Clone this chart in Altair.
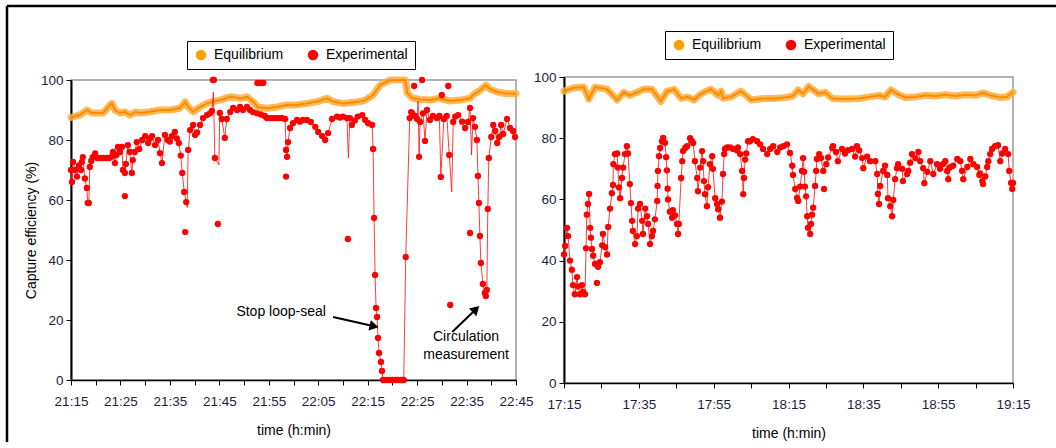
import math
import altair as alt
import pandas as pd

# ---------------- data ----------------
LEFT_START = 21 * 60 + 15   # minutes of day, 21:15
RIGHT_START = 17 * 60 + 15  # 17:15

series_names = ["Equilibrium", "Experimental"]
series_colors = ["#FFA000", "#FF0000"]

# left panel (minutes after 21:15)
left_eq_t = [0, 1.0, 1.8, 3.2, 4.2, 6.5, 7.9, 8.3, 8.9, 9.9, 10.9, 11.9, 13.0, 14.0, 16.0, 18.0, 20.0,
             22.0, 23.1, 23.7, 24.7, 26.1, 27.5, 28.7, 30.1, 32.2, 34.2, 35.6, 36.8, 37.8, 39.6, 41.7,
             43.7, 45.7, 47.7, 49.8, 51.8, 53.0, 55.0, 58.5, 59.5, 61.1, 62.5, 64.5, 66.5, 67.6, 68.0,
             69.0, 70.6, 72.6, 74.6, 76.7, 78.7, 80.7, 81.3, 82.7, 83.9, 84.7, 86.2, 87.8, 90.0]
left_eq_v = [87.5, 88, 88.3, 90, 89, 89, 91.7, 92.2, 90, 89, 89.4, 88.3, 89.3, 89, 89.4, 90, 90,
             90.6, 92.7, 91, 89.4, 91, 92.2, 92.8, 93.3, 94.4, 93.9, 94.4, 92.8, 91, 90.6, 91,
             91.7, 91.7, 92.2, 92.8, 93.9, 92.8, 92.2, 92.8, 93.3, 95, 98.3, 100, 100, 100, 95.7,
             94, 93.5, 93.3, 93.9, 93, 93.3, 93.9, 95, 96.5, 98.3, 97, 96, 95.5, 95.5]

left_exp_t = [0.0, 0.2, 0.4, 0.8, 1.2, 1.6, 2.0, 2.2, 2.4, 2.8, 3.2, 3.4, 3.6, 3.8, 4.1, 4.4, 4.9, 5.3,
              5.9, 6.5, 7.1, 7.7, 8.3, 8.5, 8.9, 9.2, 9.5, 9.9, 10.3, 10.5, 10.9, 11.1, 11.5, 11.9,
              12.3, 12.5, 12.9, 13.3, 13.8, 14.4, 15.0, 15.6, 16.0, 16.4, 17.0, 17.6, 18.0, 18.4,
              19.0, 19.6, 20.0, 20.4, 21.0, 21.4, 21.8, 22.2, 22.5, 22.9, 23.3, 23.7, 24.1, 24.7,
              25.1, 25.5, 26.1, 26.7, 27.5, 28.1, 28.5, 29.1, 30.1, 30.5, 31.1, 31.5, 32.2, 32.8,
              33.6, 34.2, 34.8, 35.6, 36.2, 36.8, 37.6, 38.4, 39.2, 39.6, 40.2, 40.7, 41.2, 41.7,
              42.2, 42.7, 43.3, 43.5, 43.7, 43.9, 44.3, 44.9, 45.7, 46.3, 46.9, 47.7, 48.5, 49.4,
              50.0, 50.8, 51.4, 52.0, 52.8, 53.8, 54.4, 55.0, 55.8, 56.4, 56.8, 57.4, 58.0, 58.9,
              59.5, 60.1, 60.9, 61.1, 61.3, 61.5, 61.7, 61.9, 62.1, 62.3, 62.7, 62.9, 63.1, 63.6,
              64.1, 64.6, 65.1, 65.6, 66.1, 66.6, 67.0, 67.3, 67.7, 68.5, 68.8, 69.0, 69.6, 70.0,
              70.4, 70.6, 71.2, 71.6, 72.0, 72.6, 73.2, 74.0, 74.5, 74.8, 75.4, 76.0, 76.5, 77.3,
              77.7, 78.3, 79.1, 79.7, 80.3, 80.7, 81.3, 81.7, 82.1, 82.3, 82.5, 82.7, 82.9, 83.3,
              83.7, 83.9, 84.1, 84.3, 84.5, 85.0, 85.4, 85.8, 86.2, 86.6, 87.0, 87.4, 88.2, 88.8,
              89.4, 89.8]
left_exp_v = [70, 66, 72.7, 70, 67.8, 71.5, 70, 72.7, 74.3, 67.2, 64, 59, 59, 71, 73, 74.3, 75.5, 74,
              74, 74, 74, 74, 74.5, 76, 72.3, 75, 77.7, 76, 77.7, 70, 69, 72, 78.3, 76,
              69, 73.3, 76, 79.3, 77, 80, 81.3, 79, 80.5, 81.3, 78.3, 80, 75.6, 72.3,
              81.7, 80, 79.5, 81.3, 82.7, 80.5, 79, 74.8, 69, 62.7, 59.3, 76.7, 83.3, 85,
              81.7, 82.5, 85, 87.3, 88.3, 88.9, 89.7, 74, 89, 87, 80.7, 87, 89.3, 90.7,
              90, 91, 90, 91, 90, 89.3, 88.9, 88.5, 88, 87.3, 87.3, 87.3, 87.3, 87.3,
              87.3, 87.3, 87, 76.7, 74.4, 79.3, 84, 85.6, 86.7, 86.1, 86.7, 86.7, 86, 84.4,
              82.7, 81.3, 80, 82.3, 87, 87.8, 87.5, 87.8, 87.3, 87.3, 85, 86.5, 87.8, 88.3,
              86.7, 85.6, 85, 77, 54, 35, 24, 21, 14, 9, 6, 3, 0, 0,
              0, 0, 0, 0, 0, 0, 0, 0, 41, 87.3, 89.3, 88.9, 88, 87,
              74.4, 86, 88.9, 79.7, 90, 86.7, 88, 87.3, 88, 67.7, 87, 88, 75, 86,
              87.8, 88.3, 86.1, 84, 86, 90.7, 87.3, 84.4, 80, 68, 59, 48, 39, 32,
              29, 28, 30, 57, 74, 81, 85, 83, 79, 81, 85, 82, 87, 84,
              83, 81]

# dots with no line through them
left_out_t = [10.9, 23.1, 28.7, 28.9, 29.7, 37.7, 38.3, 38.9, 43.5, 56.0, 69.4, 71.0, 75.0, 76.3, 76.7, 80.7]
left_out_v = [61.3, 49.3, 100, 100, 52, 99, 99, 99, 67.8, 47, 98, 100, 95, 98, 25, 49]

# line vertices with no dot
left_spike_t = [23.5, 28.8, 29.9, 56.1, 70.2, 77.0, 81.0]
left_spike_v = [57.5, 96, 71.7, 74, 93, 62.7, 75]

# right panel (minutes after 17:15)
right_eq_t = [0, 2.6, 5.3, 6.6, 8.3, 11.5, 14.2, 16.0, 17.6, 19.5, 21.4, 23.5, 25.9, 27.5, 29.4, 31.3,
              32.9, 34.8, 36.1, 37.4, 39.3, 41.2, 42.0, 42.5, 44.7, 47.3, 50.0, 53.2, 56.4, 59.1,
              61.2, 62.6, 63.9, 65.4, 68.1, 69.8, 71.7, 75.1, 78.9, 81.6, 84.2, 85.8, 87.4, 89.3,
              91.2, 93.9, 96.5, 99.2, 101.9, 104.5, 107.2, 109.9, 112.0, 113.9, 116.6, 118.4, 120]
right_eq_v = [95.4, 96.5, 96.7, 92.8, 96.7, 96, 92.5, 95, 94, 95, 96, 96, 92, 95.3, 96, 93,
              93.5, 92.5, 94, 95, 96, 94, 95.4, 93, 93.5, 95.4, 92.5, 93, 93, 93.3,
              93.8, 95.8, 94.5, 96.9, 94.5, 95, 93, 92.8, 93, 93.5, 94, 93.5, 95.8, 94.3,
              93.3, 93.5, 94, 93.8, 94.2, 93.8, 94.2, 94, 94.8, 94, 93.3, 93.5, 95]

right_exp_t = [0.0, 0.3, 0.8, 1.1, 1.6, 2.1, 2.4, 2.9, 3.5, 3.7, 4.3, 4.8, 5.1, 5.6, 5.9, 6.1, 6.4,
               6.7, 7.0, 7.2, 7.5, 7.8, 8.3, 9.1, 9.6, 10.2, 10.4, 11.0, 11.5, 11.8, 12.3, 12.8,
               13.1, 13.2, 13.6, 14.2, 14.4, 14.7, 15.0, 15.5, 15.8, 16.3, 16.8, 17.1, 17.6, 17.9,
               18.2, 18.4, 19.0, 19.5, 19.8, 20.3, 20.9, 21.1, 21.7, 22.2, 22.5, 23.0, 23.5, 23.8,
               24.3, 24.9, 25.0, 25.1, 25.4, 25.7, 26.2, 26.5, 27.0, 27.3, 27.5, 27.7, 27.8, 28.3,
               28.9, 29.1, 29.7, 30.2, 30.5, 30.7, 31.3, 31.6, 31.8, 32.4, 32.9, 33.7, 34.2, 34.5,
               35.0, 35.6, 35.8, 36.4, 36.9, 37.2, 37.4, 37.7, 38.2, 38.5, 39.0, 39.6, 39.8, 40.4,
               40.9, 41.2, 41.7, 42.2, 42.5, 42.8, 43.0, 43.6, 44.4, 45.2, 46.3, 46.5, 47.1, 47.6,
               47.9, 48.1, 48.4, 48.7, 49.2, 49.7, 50.5, 51.6, 52.4, 53.2, 54.3, 55.1, 55.9, 57.0,
               57.8, 58.6, 59.6, 60.4, 61.0, 61.2, 61.8, 62.3, 62.6, 63.1, 63.6, 63.9, 64.2, 64.4,
               64.7, 65.0, 65.2, 65.8, 66.0, 66.3, 66.6, 67.1, 67.4, 67.6, 68.2, 68.7, 69.3, 70.1,
               70.6, 71.7, 71.9, 72.7, 73.2, 74.3, 75.1, 75.9, 77.0, 77.8, 78.3, 78.9, 79.7, 80.0,
               81.0, 81.8, 83.2, 83.7, 83.9, 84.2, 84.5, 85.3, 85.8, 86.4, 86.6, 87.2, 87.7, 88.0,
               88.5, 89.0, 89.3, 90.4, 90.6, 91.7, 92.0, 92.5, 93.0, 93.9, 94.7, 95.2, 96.0, 96.3,
               97.1, 97.9, 98.7, 99.7, 100.5, 101.3, 101.9, 102.4, 102.7, 103.2, 104.0, 105.1,
               105.9, 106.4, 106.7, 107.8, 108.6, 109.4, 110.4, 111.0, 111.2, 111.8, 112.0, 112.6,
               113.1, 113.4, 113.9, 114.4, 115.2, 116.0, 116.6, 117.1, 117.9, 118.7, 119.0, 119.5,
               119.8, 120.0]
right_exp_v = [42, 44.8, 50.7, 48, 40, 37, 32, 29, 34.6, 31.5, 29, 32, 29.8, 29, 44, 55, 58.5,
               61.8, 50.7, 47.5, 43.8, 41.6, 38.9, 38, 39.5, 45, 48.7, 44.4, 42, 51, 57, 62,
               64.7, 71.5, 74.8, 75, 70.4, 63.9, 60.4, 67, 70.4, 74.8, 77.4, 75, 65, 58.8,
               53, 49.7, 45.4, 48, 57, 58.5, 53, 48.7, 57, 54.5, 52, 45.4, 48, 49.7,
               53.5, 59.5, 64.4, 69.3, 74.1, 76.8, 79, 80.1, 78.5, 73.8, 69.5, 63.5, 60, 56,
               54, 56.5, 54.8, 52, 48.7, 52, 67, 72.5, 75.8, 76.8, 77.4, 80, 79, 78.4,
               72.5, 67, 62.7, 70.4, 75.8, 72.5, 66, 61.7, 57.8, 64, 71.5, 74.1, 70, 60.4,
               58.5, 56.8, 54, 59.3, 68.3, 74.8, 76.5, 77, 77, 76.5, 76, 77, 74.8, 69.3,
               61.7, 67, 73, 75, 79, 79, 79.7, 79, 78, 76.5, 74.8, 76.5, 77.4, 75.5,
               77, 77.4, 78, 75.2, 71, 68, 63.4, 60.5, 59.5, 64.2, 69.3, 73.5, 69, 64.2,
               61, 54.5, 50.7, 48.7, 52, 55, 57.3, 64.4, 69.3, 73.2, 74.8, 73.5, 69.3, 71.5,
               73.7, 76.8, 77.4, 75.5, 72.5, 76.5, 75, 76.1, 76.5, 74, 77.4, 76, 73.5, 70.2,
               74, 72.5, 72.5, 68.3, 61.8, 58.5, 64.4, 69.3, 71, 68, 60.4, 57.8, 54.5, 59.8,
               66.6, 70.2, 71.5, 70, 66, 68.3, 69.3, 72, 74.8, 73.5, 75.5, 72.5, 70.2, 65.3,
               69, 72.5, 68.3, 71.5, 70, 71.5, 72.5, 69.3, 66.6, 70.5, 71, 73.2,
               72.5, 69.3, 66.6, 70.6, 73.2, 71.5, 70.6, 68, 68.5, 66, 65, 67.5,
               70.6, 72.5, 74.8, 76.5, 77.4, 77.7, 72.5, 75, 76.5, 74.8, 69.3, 65.4,
               63.4, 65.4]
right_out_t = [8.8, 69.5]
right_out_v = [32.7, 63.4]

# annotations (left panel, data units: minutes after 21:15, %)
ann_text = ["Stop loop-seal", "Circulation", "measurement"]
ann_t = [42.5, 79.9, 79.9]
ann_v = [22.7, 14.2, 8.2]
arrow_t0 = [53.0, 77.1]
arrow_v0 = [21.0, 16.0]
arrow_t1 = [61.3, 81.9]
arrow_v1 = [17.9, 23.6]

# ---------------- layout / style ----------------
LW, LH = 445, 300
RW, RH = 449, 306
FONT = "Liberation Sans"
LABEL_COLOR = "#1e1e3c"


def frame(ts, vs, base, name):
    return pd.DataFrame({"time": [base + t for t in ts], "value": vs, "series": name})


def hm_expr(start, step):
    return (f"(datum.value - {start}) % {step} == 0 ? "
            "(floor(datum.value / 60) + ':' + (datum.value % 60 < 10 ? '0' : '') + (datum.value % 60)) : ''")


def panel(start, span, tick_step, label_step, w, h, eq, exp_line, exp_pts, ytitle, lx, ly, extra=None):
    x = alt.X("time:Q",
              scale=alt.Scale(domain=[start, start + span], nice=False, zero=False),
              axis=alt.Axis(values=list(range(start, start + span + 1, tick_step)),
                            labelExpr=hm_expr(start, label_step), title="time (h:min)",
                            labelOverlap=False, labelFlush=False, tickSize=5, labelPadding=9,
                            titlePadding=16, domainWidth=1.5))
    yaxis = dict(values=[0, 20, 40, 60, 80, 100], tickSize=5, labelPadding=3, domainWidth=2)
    if ytitle:
        yaxis.update(title=ytitle, titleX=-40, titleY=h / 2, titleAngle=270,
                     titleAlign="center", titleBaseline="middle")
    else:
        yaxis.update(title=None)
    y = alt.Y("value:Q", scale=alt.Scale(domain=[0, 100], nice=False), axis=alt.Axis(**yaxis))

    band = alt.Chart(eq).mark_line(color="#FFAD3A", strokeWidth=7, opacity=0.85,
                                   strokeJoin="round", strokeCap="round").encode(x=x, y=y)
    core = alt.Chart(eq).mark_line(color="#FF8A00", strokeWidth=2).encode(x=x, y=y)
    red_line = alt.Chart(exp_line).mark_line(color="#FF1A1A", strokeWidth=1, opacity=0.85).encode(x=x, y=y)
    dots = alt.Chart(exp_pts).mark_circle(size=40, opacity=1).encode(
        x=x, y=y,
        fill=alt.Fill("series:N",
                      scale=alt.Scale(domain=series_names, range=series_colors),
                      legend=alt.Legend(title=None, orient="none", legendX=lx, legendY=ly,
                                        direction="horizontal", strokeColor="black",
                                        fillColor="white", padding=7, symbolType="circle",
                                        symbolSize=110, symbolStrokeWidth=0, symbolOpacity=1,
                                        labelFont=FONT, labelFontSize=14, labelColor="black",
                                        columnPadding=22, labelOffset=6)))
    layers = [band, core, red_line, dots]
    if extra:
        layers += extra(x, y)
    return alt.layer(*layers).properties(width=w, height=h)


def left_extra(x, y):
    px_t = LW / 90.0
    px_v = LH / 100.0
    tdf = pd.DataFrame({"time": [LEFT_START + t for t in ann_t], "value": ann_v, "label": ann_text})
    texts = alt.Chart(tdf).mark_text(font=FONT, fontSize=14, color="black").encode(
        x=x, y=y, text="label:N")
    adf = pd.DataFrame({
        "time": [LEFT_START + t for t in arrow_t0], "value": arrow_v0,
        "time2": [LEFT_START + t for t in arrow_t1], "value2": arrow_v1,
    })
    shafts = alt.Chart(adf).mark_rule(color="black", strokeWidth=2).encode(
        x=x, y=y, x2="time2:Q", y2="value2:Q")
    hdf = pd.DataFrame({
        "time": [LEFT_START + t for t in arrow_t1], "value": arrow_v1,
        "ang": [math.degrees(math.atan2(-(v1 - v0) * px_v, (t1 - t0) * px_t)) % 360
                for t0, v0, t1, v1 in zip(arrow_t0, arrow_v0, arrow_t1, arrow_v1)],
    })
    heads = alt.Chart(hdf).mark_point(shape="triangle-right", filled=True, size=110,
                                      color="black", opacity=1).encode(
        x=x, y=y, angle=alt.Angle("ang:Q", scale=None))
    dummy = pd.DataFrame({"k": [0]})
    top_line = alt.Chart(dummy).mark_rule(color="black", strokeWidth=2.5).encode(
        x=alt.value(-64), x2=alt.value(985), y=alt.value(-74))
    left_line = alt.Chart(dummy).mark_rule(color="black", strokeWidth=2.5).encode(
        x=alt.value(-64), y=alt.value(-74), y2=alt.value(370))
    return [shafts, heads, texts, top_line, left_line]


left_eq = frame(left_eq_t, left_eq_v, LEFT_START, "Equilibrium")
left_line_df = pd.concat([frame(left_exp_t, left_exp_v, LEFT_START, "Experimental"),
                          frame(left_spike_t, left_spike_v, LEFT_START, "Experimental")]
                         ).sort_values("time").reset_index(drop=True)
left_pts_df = pd.concat([frame(left_exp_t, left_exp_v, LEFT_START, "Experimental"),
                         frame(left_out_t, left_out_v, LEFT_START, "Experimental")]).reset_index(drop=True)

right_eq = frame(right_eq_t, right_eq_v, RIGHT_START, "Equilibrium")
right_line_df = frame(right_exp_t, right_exp_v, RIGHT_START, "Experimental")
right_pts_df = pd.concat([right_line_df, frame(right_out_t, right_out_v, RIGHT_START, "Experimental")]
                         ).reset_index(drop=True)

left = panel(LEFT_START, 90, 5, 10, LW, LH, left_eq, left_line_df, left_pts_df,
             "Capture efficiency (%)", 116, -39, extra=left_extra)
right = panel(RIGHT_START, 120, 10, 20, RW, RH, right_eq, right_line_df, right_pts_df,
              None, 101, -46)

chart = alt.hconcat(left, right, spacing=48, bounds="flush", center=True).resolve_scale(
    x="independent", y="independent", fill="independent"
).resolve_legend(fill="independent").properties(
    autosize=alt.AutoSizeParams(type="none"),
    padding={"left": 71, "top": 77, "right": 985, "bottom": 365},
    background="white",
).configure_view(
    stroke="#9a9a9a", strokeWidth=1.5
).configure_axis(
    grid=False, domainColor="black", tickColor="black", tickWidth=1,
    labelFont=FONT, labelFontSize=13.5, labelColor=LABEL_COLOR,
    titleFont=FONT, titleFontSize=14, titleFontWeight="normal", titleColor="black",
)

chart.save("out.html", embed_options={"renderer": "svg", "actions": False})
